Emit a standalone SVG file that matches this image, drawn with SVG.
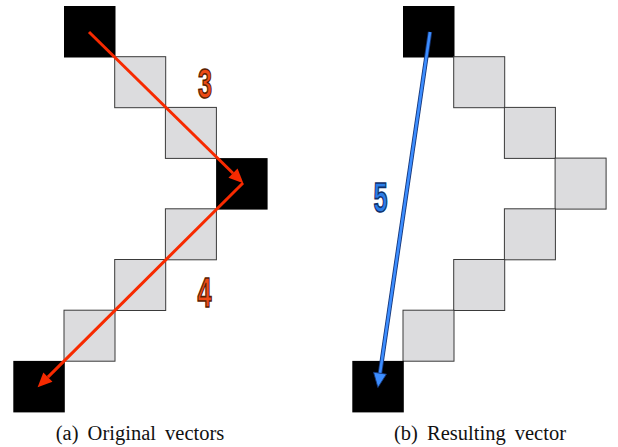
<svg xmlns="http://www.w3.org/2000/svg" width="618" height="447" viewBox="0 0 618 447">
<style>
.blk{fill:#000;}
.gry{fill:#dcdcde;stroke:#3a3a3a;stroke-width:1;}
.red{stroke:#f72a00;stroke-width:3;fill:none;}
.blueo{stroke:#16377a;stroke-width:4.4;fill:none;}
.bluei{stroke:#3c8dff;stroke-width:2.6;fill:none;}
.num{font-family:'Liberation Sans',Arial,sans-serif;font-weight:bold;font-size:42px;text-anchor:middle;stroke-width:1.6;}
.nr{fill:#ee4a16;stroke:#5a2000;}
.nb{fill:#2b7de9;stroke:#10306a;}
.cap{font-family:'Liberation Serif','DejaVu Serif',serif;font-size:20.5px;text-anchor:middle;fill:#111;word-spacing:4px;}
</style>
<defs>
<marker id="ahr" markerUnits="userSpaceOnUse" viewBox="0 -7 16 14" markerWidth="16" markerHeight="14" refX="0" refY="0" orient="auto" overflow="visible">
<path d="M0,-6.5 L14.5,0 L0,6.5 Z" fill="#f72a00"/>
</marker>
<marker id="ahb" markerUnits="userSpaceOnUse" viewBox="0 -7 16 14" markerWidth="16" markerHeight="14" refX="0" refY="0" orient="auto" overflow="visible">
<path d="M0,-6.5 L14.5,0 L0,6.5 Z" fill="#3c8dff" stroke="#16377a" stroke-width="0.8"/>
</marker>
</defs>
<g id="panel-a">
<rect id="a-b0" class="blk" x="64" y="6" width="51.5" height="51.5"/>
<rect id="a-g1" class="gry" x="114.7" y="56.7" width="51" height="51"/>
<rect id="a-g2" class="gry" x="165.4" y="107.4" width="51" height="51"/>
<rect id="a-b3" class="blk" x="216.1" y="158.1" width="51.5" height="51.5"/>
<rect id="a-g4" class="gry" x="165.4" y="208.8" width="51" height="51"/>
<rect id="a-g5" class="gry" x="114.7" y="259.5" width="51" height="51"/>
<rect id="a-g6" class="gry" x="64" y="310.2" width="51" height="51"/>
<rect id="a-b7" class="blk" x="13.3" y="360.9" width="51.5" height="51.5"/>
</g>
<g id="panel-b">
<rect id="b-b0" class="blk" x="403" y="6" width="51.5" height="51.5"/>
<rect id="b-g1" class="gry" x="453.7" y="56.7" width="51" height="51"/>
<rect id="b-g2" class="gry" x="504.4" y="107.4" width="51" height="51"/>
<rect id="b-g3" class="gry" x="555.1" y="158.1" width="51" height="51"/>
<rect id="b-g4" class="gry" x="504.4" y="208.8" width="51" height="51"/>
<rect id="b-g5" class="gry" x="453.7" y="259.5" width="51" height="51"/>
<rect id="b-g6" class="gry" x="403" y="310.2" width="51" height="51"/>
<rect id="b-b7" class="blk" x="352.3" y="360.9" width="51.5" height="51.5"/>
</g>
<g id="connectors">
<line class="red" x1="89" y1="32" x2="233" y2="173.2" marker-end="url(#ahr)"/>
<line class="red" x1="243" y1="183" x2="47.9" y2="377.1" marker-end="url(#ahr)"/>
<line class="blueo" x1="430" y1="32" x2="380" y2="373.2"/>
<line class="bluei" x1="430" y1="32" x2="380" y2="373.2" marker-end="url(#ahb)"/>
</g>
<g id="labels">
<text class="num nr" transform="translate(205,97.5) scale(0.6,1)">3</text>
<text class="num nr" transform="translate(204.5,307) scale(0.6,1)">4</text>
<text class="num nb" transform="translate(380.5,212) scale(0.6,1)">5</text>
<text class="cap" x="140" y="440">(a) Original vectors</text>
<text class="cap" x="480" y="440">(b) Resulting vector</text>
</g>
</svg>
